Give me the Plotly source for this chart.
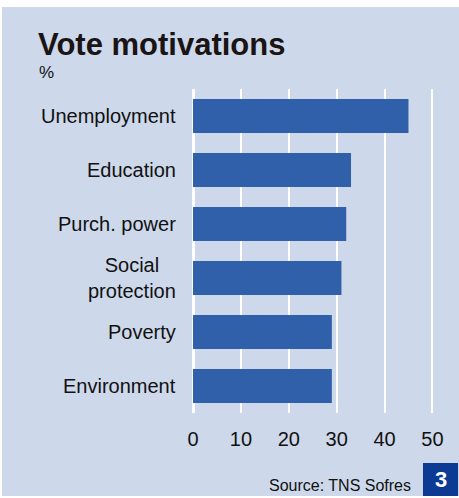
import plotly.graph_objects as go

categories = ["Unemployment", "Education", "Purch. power", "Social<br>protection", "Poverty", "Environment"]
values = [45, 33, 32, 31, 29, 29]
x_ticks = [0, 10, 20, 30, 40, 50]
title_text = "Vote motivations"
unit_text = "%"
source_text = "Source: TNS Sofres"
badge_text = "3"

W, H = 459, 498
L, R, T, B = 193, 442, 89, 413

def xp(px):
    return (px - L) / (R - L)

def yp(py):
    return (B - py) / (B - T)

BG = "#CDD8EA"
BAR = "#3160AA"
FONT = "Liberation Sans, Arial, sans-serif"

fig = go.Figure(go.Bar(
    x=values, y=categories, orientation="h",
    marker=dict(color=BAR, line=dict(width=0)),
    hoverinfo="skip",
))

annotations = []
for c in categories:
    annotations.append(dict(
        x=xp(178), y=c, xref="paper", yref="y", text=c, showarrow=False,
        xanchor="right", yanchor="middle", align="center",
        font=dict(family=FONT, size=20, color="#111111"),
    ))
annotations += [
    dict(x=xp(36), y=yp(44), xref="paper", yref="paper", text="<b>" + title_text + "</b>",
         showarrow=False, xanchor="left", yanchor="middle",
         font=dict(family=FONT, size=31, color="#1a1414")),
    dict(x=xp(37), y=yp(72), xref="paper", yref="paper", text=unit_text,
         showarrow=False, xanchor="left", yanchor="middle",
         font=dict(family=FONT, size=17, color="#111111")),
    dict(x=xp(413), y=yp(486), xref="paper", yref="paper", text=source_text,
         showarrow=False, xanchor="right", yanchor="middle",
         font=dict(family=FONT, size=16, color="#111111")),
    dict(x=xp(440.5), y=yp(479), xref="paper", yref="paper", text="<b>" + badge_text + "</b>",
         showarrow=False, xanchor="center", yanchor="middle",
         font=dict(family=FONT, size=22, color="white")),
]

shapes = [
    dict(type="rect", xref="paper", yref="paper", x0=xp(0), x1=xp(W), y0=yp(0), y1=yp(7),
         fillcolor="white", line=dict(width=0), layer="below"),
    dict(type="rect", xref="paper", yref="paper", x0=xp(0), x1=xp(2), y0=yp(0), y1=yp(H),
         fillcolor="white", line=dict(width=0), layer="below"),
    dict(type="rect", xref="paper", yref="paper", x0=xp(0), x1=xp(W), y0=yp(496), y1=yp(H),
         fillcolor="white", line=dict(width=0), layer="below"),
    dict(type="rect", xref="paper", yref="paper", x0=xp(423), x1=xp(458), y0=yp(463), y1=yp(496),
         fillcolor="#0B3B93", line=dict(width=0)),
]

fig.update_layout(
    width=W, height=H,
    margin=dict(l=L, r=W - R, t=T, b=H - B, pad=0),
    paper_bgcolor=BG, plot_bgcolor=BG,
    showlegend=False,
    bargap=0.37,
    annotations=annotations,
    shapes=shapes,
    xaxis=dict(
        range=[0, 52], tickvals=x_ticks, ticktext=[str(v) for v in x_ticks],
        showgrid=True, gridcolor="white", gridwidth=2,
        zeroline=True, zerolinecolor="white", zerolinewidth=3,
        showline=False, ticks="", ticklabelstandoff=12,
        tickfont=dict(family=FONT, size=20, color="#111111"),
        fixedrange=True,
    ),
    yaxis=dict(
        categoryorder="array", categoryarray=categories, autorange="reversed",
        showticklabels=False, showgrid=False, zeroline=False, showline=False, ticks="",
        fixedrange=True,
    ),
)

fig.write_html("out.html", config={"displayModeBar": False, "staticPlot": True},
               post_script="document.body.style.margin='0';document.body.style.padding='0';")
